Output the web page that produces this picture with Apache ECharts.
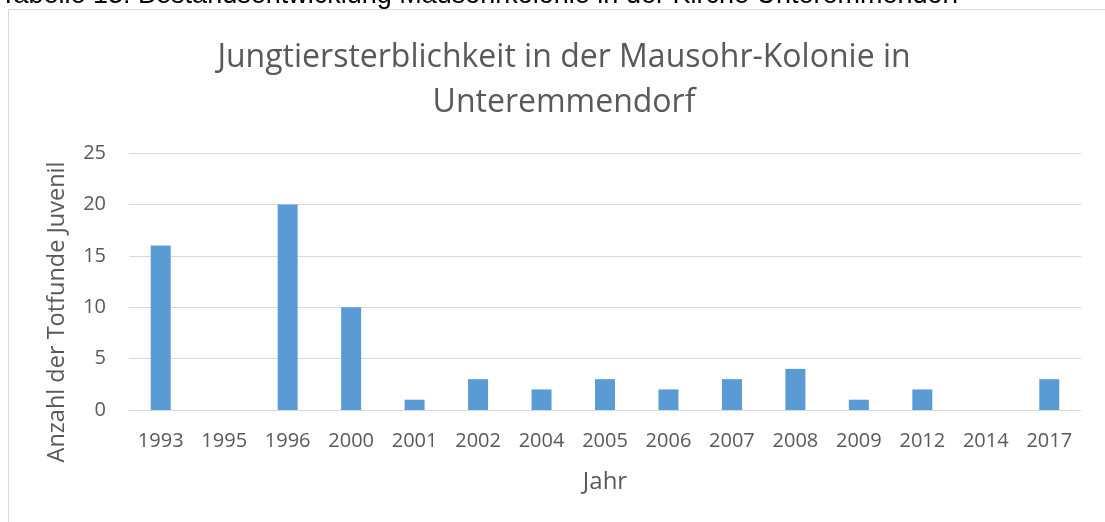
<!DOCTYPE html>
<html>
<head>
<meta charset="utf-8">
<script src="https://cdn.jsdelivr.net/npm/echarts@6/dist/echarts.min.js"></script>
<style>
  html, body { margin: 0; padding: 0; background: #ffffff; }
  #chart { width: 1105px; height: 522px; }
</style>
</head>
<body>
<div id="chart"></div>
<script>
// Years with recorded juvenile dead finds
const years = ['1993', '1995', '1996', '2000', '2001', '2002', '2004', '2005', '2006', '2007', '2008', '2009', '2012', '2014', '2017'];
// Number of dead juveniles found per year
const deadJuveniles = [16, 0, 20, 10, 1, 3, 2, 3, 2, 3, 4, 1, 2, 0, 3];
// Value axis ticks
const yTicks = [0, 5, 10, 15, 20, 25];

const textColor = '#595959';
const gridColor = '#d9d9d9';
const font = '"Open Sans", "Noto Sans", sans-serif';

const chart = echarts.init(document.getElementById('chart'), null, { renderer: 'canvas' });

chart.setOption({
  animation: false,
  backgroundColor: '#ffffff',
  title: {
    text: 'Jungtiersterblichkeit in der Mausohr-Kolonie in\nUnteremmendorf',
    left: 559,
    top: 30,
    textAlign: 'center',
    textStyle: {
      fontFamily: font,
      fontSize: 32,
      fontWeight: 'normal',
      color: textColor,
      lineHeight: 45
    }
  },
  graphic: [
    {
      type: 'rect',
      shape: { x: 8.5, y: 9.5, width: 1200, height: 600 },
      style: { fill: null, stroke: gridColor, lineWidth: 1 },
      silent: true
    },
    {
      type: 'text',
      x: 0,
      y: 9,
      style: {
        text: 'Tabelle 13: Bestandsentwicklung Mausohrkolonie in der Kirche Unteremmendorf',
        font: '27px "Liberation Sans", Arial, sans-serif',
        fill: '#000000',
        verticalAlign: 'bottom',
        align: 'left'
      },
      silent: true
    },
    {
      type: 'text',
      x: 57,
      y: 312,
      rotation: Math.PI / 2,
      style: {
        text: 'Anzahl der Totfunde Juvenil',
        font: '23.5px "Open Sans", "Noto Sans", sans-serif',
        fill: textColor,
        align: 'center',
        verticalAlign: 'middle'
      },
      silent: true
    }
  ],
  grid: {
    left: 129,
    right: 24,
    top: 153,
    bottom: 112,
    containLabel: false
  },
  xAxis: {
    type: 'category',
    data: years,
    name: 'Jahr',
    nameLocation: 'middle',
    nameGap: 60,
    nameTextStyle: { fontFamily: font, fontSize: 24, color: textColor },
    axisLine: { show: true, lineStyle: { color: gridColor, width: 1 } },
    axisTick: { show: false },
    axisLabel: {
      fontFamily: font,
      fontSize: 20,
      color: textColor,
      margin: 21,
      interval: 0
    },
    splitLine: { show: false }
  },
  yAxis: {
    type: 'value',
    min: yTicks[0],
    max: yTicks[yTicks.length - 1],
    interval: yTicks[1] - yTicks[0],
    axisLine: { show: false },
    axisTick: { show: false },
    axisLabel: {
      fontFamily: font,
      fontSize: 20,
      color: textColor,
      margin: 23
    },
    splitLine: { show: true, lineStyle: { color: gridColor, width: 1 } }
  },
  series: [
    {
      type: 'bar',
      data: deadJuveniles,
      barWidth: 20,
      itemStyle: { color: '#5b9bd5' }
    }
  ]
});
</script>
</body>
</html>
